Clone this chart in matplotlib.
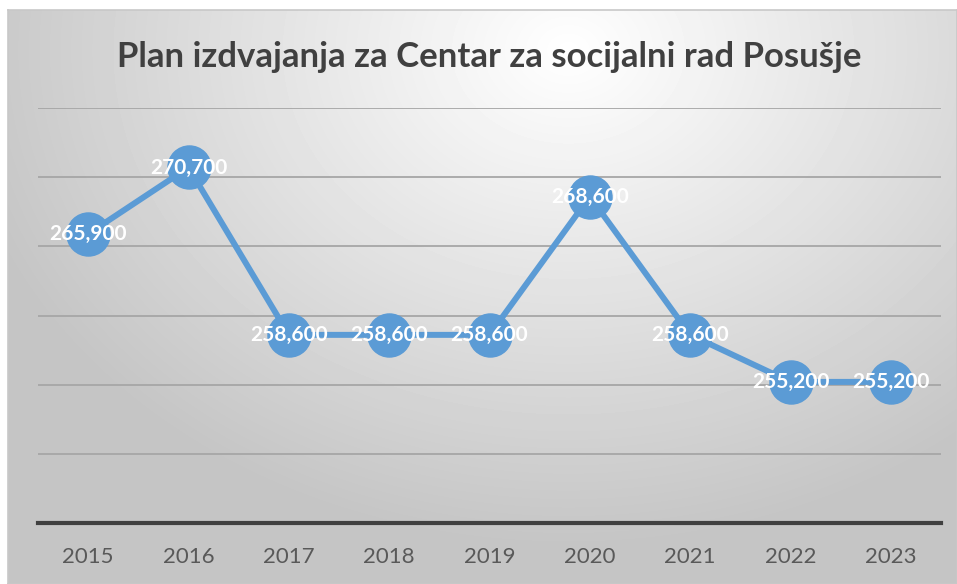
import matplotlib
matplotlib.use("Agg")
import matplotlib.pyplot as plt
import numpy as np

# data
years = ["2015", "2016", "2017", "2018", "2019", "2020", "2021", "2022", "2023"]
values = [265900, 270700, 258600, 258600, 258600, 268600, 258600, 255200, 255200]
labels = ["265,900", "270,700", "258,600", "258,600", "258,600", "268,600", "258,600", "255,200", "255,200"]
title = "Plan izdvajanja za Centar za socijalni rad Posušje"

W, H = 957, 584
fig = plt.figure(figsize=(W / 100, H / 100), dpi=100)
fig.patch.set_facecolor("white")

# chart area background with a soft radial gradient
bg = fig.add_axes([8 / W, 0, 1 - 8 / W, 1 - 10 / H])
yy, xx = np.mgrid[0:574, 0:949]
d = np.sqrt(((xx - 560) / 650.0) ** 2 + ((yy - 40) / 520.0) ** 2)
shade = np.clip(1.0 - 0.24 * d, 0.77, 1.0)
bg.imshow(shade, cmap="gray", vmin=0, vmax=1, aspect="auto", interpolation="bilinear")
bg.set_xticks([])
bg.set_yticks([])
for s in bg.spines.values():
    s.set_color("#c8c8c8")
    s.set_linewidth(1.2)

ax = fig.add_axes([38 / W, 1 - 523 / H, (941 - 38) / W, (523 - 108) / H])
ax.patch.set_alpha(0)
x = np.arange(len(years))
ax.plot(x, values, color="#5b9bd5", lw=4.3, marker="o", ms=31, zorder=3,
        solid_capstyle="round")
for xi, v, t in zip(x, values, labels):
    ax.text(xi, v, t, ha="center", va="center", color="white", fontsize=15,
            fontweight="bold", family="Lato", zorder=4)

ax.set_xlim(-0.5, len(years) - 0.5)
ax.set_ylim(245000, 275000)
ax.set_yticks(np.arange(245000, 275001, 5000))
ax.yaxis.grid(True, color="#a6a6a6", lw=1.3)
ax.tick_params(axis="y", left=False, labelleft=False)
ax.set_xticks(x)
ax.set_xticklabels(years, fontsize=16, color="#595959", family="Lato")
ax.tick_params(axis="x", length=0, pad=17)
for side in ["top", "right", "left"]:
    ax.spines[side].set_visible(False)
ax.spines["bottom"].set_color("#404040")
ax.spines["bottom"].set_linewidth(3)
ax.set_axisbelow(True)

fig.text(489 / W, 1 - 57 / H, title, ha="center", va="center", fontsize=25,
         fontweight="bold", color="#404040", family="Lato")

fig.savefig("out.png", dpi=100)
